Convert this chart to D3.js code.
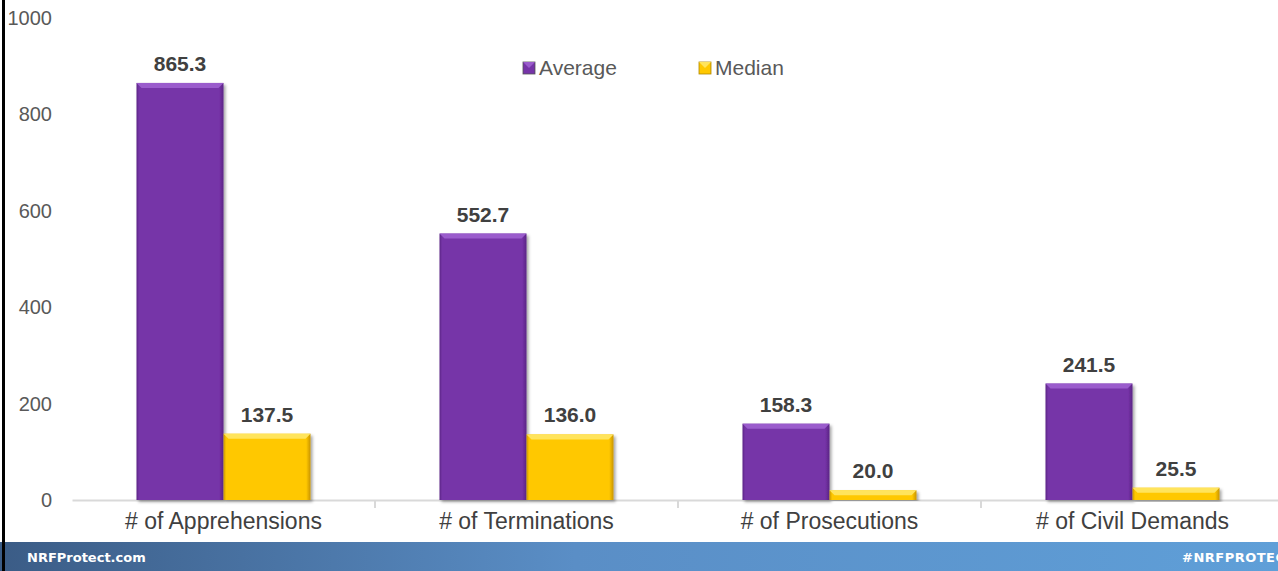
<!DOCTYPE html>
<html>
<head>
<meta charset="utf-8">
<script src="https://cdn.jsdelivr.net/npm/d3@7"></script>
<style>
  body { margin: 0; background: #fff; }
  svg { display: block; font-family: "Liberation Sans", Arial, sans-serif; }
</style>
</head>
<body>
<script>
// data
var categories = ["# of Apprehensions", "# of Terminations", "# of Prosecutions", "# of Civil Demands"];
var seriesNames = ["Average", "Median"];
var averageValues = [865.3, 552.7, 158.3, 241.5];
var medianValues = [137.5, 136.0, 20.0, 25.5];
var yTicks = [0, 200, 400, 600, 800, 1000];

var W = 1278, H = 571;
var margin = {top: 18, right: 0, bottom: 71, left: 72},
    width = 1285 - margin.left,
    height = 500 - margin.top;

var svg = d3.select("body").append("svg")
    .attr("width", W)
    .attr("height", H);

var defs = svg.append("defs");

function barGrad(id, mid, dark) {
  var g = defs.append("linearGradient").attr("id", id)
      .attr("x1", 0).attr("x2", 1).attr("y1", 0).attr("y2", 0);
  g.append("stop").attr("offset", "0%").attr("stop-color", dark);
  g.append("stop").attr("offset", "3%").attr("stop-color", mid);
  g.append("stop").attr("offset", "95%").attr("stop-color", mid);
  g.append("stop").attr("offset", "100%").attr("stop-color", dark);
}
barGrad("gAvg", "#7634a8", "#5a2585");
barGrad("gMed", "#ffc800", "#c89400");

var foot = defs.append("linearGradient").attr("id", "gFoot")
    .attr("x1", 0).attr("x2", 1);
foot.append("stop").attr("offset", "0%").attr("stop-color", "#3b5c86");
foot.append("stop").attr("offset", "45%").attr("stop-color", "#5a8ec6");
foot.append("stop").attr("offset", "100%").attr("stop-color", "#5f9fd8");

var shadow = defs.append("filter").attr("id", "shadow")
    .attr("x", "-10%").attr("y", "-10%").attr("width", "130%").attr("height", "120%");
shadow.append("feDropShadow").attr("dx", 2).attr("dy", 2)
    .attr("stdDeviation", 1.5).attr("flood-color", "#000").attr("flood-opacity", 0.35);

var g = svg.append("g")
    .attr("transform", "translate(" + margin.left + "," + margin.top + ")");

var x0 = d3.scaleBand()
    .domain(categories)
    .range([0, 303 * 4])
    .paddingInner(0)
    .paddingOuter(0);

var x1 = d3.scaleBand()
    .domain(seriesNames)
    .range([x0.bandwidth() / 2 - 87, x0.bandwidth() / 2 + 87]);

var y = d3.scaleLinear()
    .domain([0, 1000])
    .range([height, 0]);

// y tick labels (no axis line)
g.append("g").selectAll("text")
    .data(yTicks)
    .enter().append("text")
    .attr("x", -20)
    .attr("y", function(d) { return y(d); })
    .attr("dy", "0.35em")
    .attr("text-anchor", "end")
    .style("font-size", "20px")
    .style("fill", "#595959")
    .text(function(d) { return d; });

// x baseline and ticks
var xAxis = g.append("g")
    .attr("transform", "translate(0," + height + ")")
    .call(d3.axisBottom(x0).tickSize(0).tickPadding(13));
xAxis.select(".domain").attr("stroke", "#d9d9d9").attr("stroke-width", 2);
xAxis.selectAll("text")
    .style("font-size", "23px")
    .style("font-family", "Liberation Sans, Arial, sans-serif")
    .style("fill", "#404040");
xAxis.selectAll(".sep")
    .data(categories.slice(1))
    .enter().append("line")
    .attr("class", "sep")
    .attr("x1", function(d) { return x0(d); })
    .attr("x2", function(d) { return x0(d); })
    .attr("y1", 0).attr("y2", 8)
    .attr("stroke", "#d9d9d9").attr("stroke-width", 2);

var series = [
  {name: "Average", values: averageValues, fill: "url(#gAvg)", top: "#9a5ccc"},
  {name: "Median", values: medianValues, fill: "url(#gMed)", top: "#ffe45c"}
];

series.forEach(function(s) {
  var bars = g.append("g").selectAll("g")
      .data(categories)
      .enter().append("g")
      .attr("transform", function(d) { return "translate(" + (x0(d) + x1(s.name)) + ",0)"; });

  bars.append("rect")
      .attr("x", 0)
      .attr("y", function(d, i) { return y(s.values[i]); })
      .attr("width", x1.bandwidth())
      .attr("height", function(d, i) { return height - y(s.values[i]); })
      .attr("fill", s.fill)
      .attr("filter", "url(#shadow)");

  // bevel on the top edge
  bars.append("path")
      .attr("d", function(d, i) {
        var t = y(s.values[i]), w = x1.bandwidth(), b = Math.min(5, height - t);
        return "M0," + t + "L" + w + "," + t + "L" + (w - b) + "," + (t + b) + "L" + b + "," + (t + b) + "Z";
      })
      .attr("fill", s.top);

  bars.append("text")
      .attr("x", x1.bandwidth() / 2)
      .attr("y", function(d, i) { return y(s.values[i]) - 12; })
      .attr("text-anchor", "middle")
      .style("font-size", "21px")
      .style("font-weight", "bold")
      .style("fill", "#404040")
      .text(function(d, i) { return s.values[i].toFixed(1); });
});

// legend
var legend = svg.append("g").attr("transform", "translate(523,62)");
var legX = [0, 176];
series.forEach(function(s, i) {
  var lg = legend.append("g").attr("transform", "translate(" + legX[i] + ",0)");
  lg.append("rect").attr("width", 12).attr("height", 12)
    .attr("fill", s.fill).attr("stroke", i === 0 ? "#555" : "#b08800").attr("stroke-width", 0.8);
  lg.append("path").attr("d", "M0,0L12,0L6,6Z").attr("fill", s.top);
  lg.append("text").attr("x", 16).attr("y", 6).attr("dy", "0.35em")
    .style("font-size", "21px").style("fill", "#595959").text(s.name);
});

// footer band
svg.append("rect").attr("x", 0).attr("y", 542).attr("width", W).attr("height", 29)
    .attr("fill", "url(#gFoot)");
svg.append("text").attr("x", 27).attr("y", 557).attr("dy", "0.35em")
    .style("font-family", "DejaVu Sans, sans-serif").style("font-weight", "bold")
    .style("font-size", "13px").style("fill", "#fff").text("NRFProtect.com");
svg.append("text").attr("x", 1182).attr("y", 557).attr("dy", "0.35em")
    .style("font-family", "DejaVu Sans, sans-serif").style("font-weight", "bold")
    .style("font-size", "13px").style("fill", "#fff").style("letter-spacing", "0.5px")
    .text("#NRFPROTECT");

// left border line
svg.append("rect").attr("x", 2).attr("y", 0).attr("width", 3).attr("height", H).attr("fill", "#000");
</script>
</body>
</html>
